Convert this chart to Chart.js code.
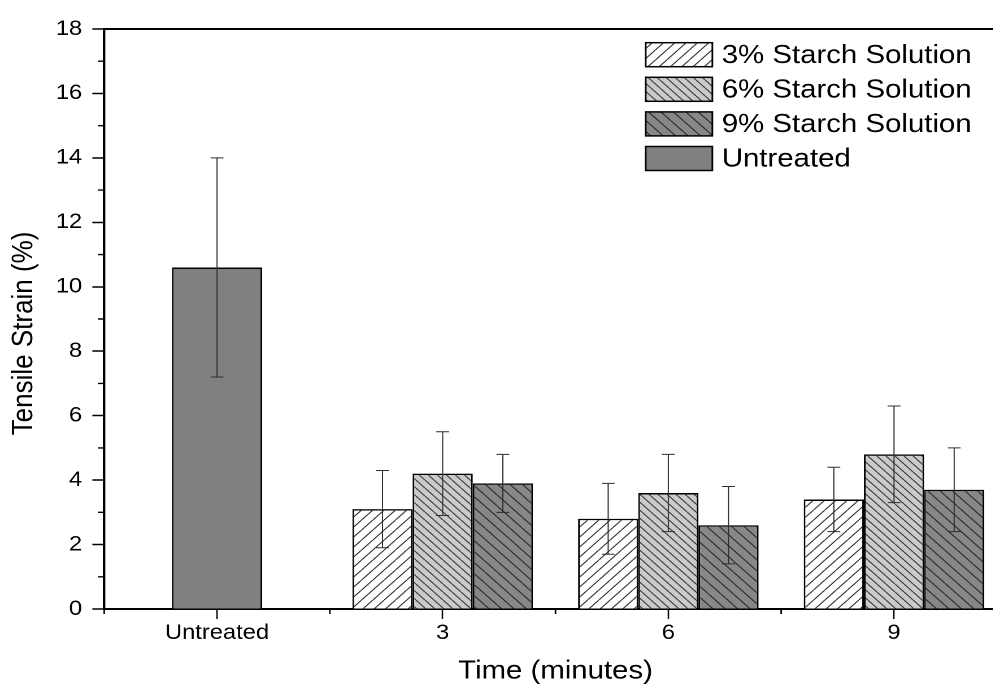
<!DOCTYPE html>
<html>
<head>
<meta charset="utf-8">
<script src="https://cdn.jsdelivr.net/npm/chart.js@4.4.1/dist/chart.umd.min.js"></script>
<style>
  html, body { margin: 0; padding: 0; background: #fff; overflow: hidden; }
  /* the source figure is slightly stretched sideways */
  #wrap { width: 891px; height: 687px; transform: scaleX(1.13); transform-origin: 0 0; }
</style>
</head>
<body>
<div id="wrap"><canvas id="strainChart"></canvas></div>
<script>
const categories = ['Untreated', '3', '6', '9'];
const starch3 = [null, 3.1, 2.8, 3.4];
const starch3Err = [null, 1.2, 1.1, 1.0];
const starch6 = [null, 4.2, 3.6, 4.8];
const starch6Err = [null, 1.3, 1.2, 1.5];
const starch9 = [null, 3.9, 2.6, 3.7];
const starch9Err = [null, 0.9, 1.2, 1.3];
const untreated = [10.6, null, null, null];
const untreatedErr = [3.4, null, null, null];
const yTickValues = [0, 2, 4, 6, 8, 10, 12, 14, 16, 18];
const yMinorValues = [1, 3, 5, 7, 9, 11, 13, 15, 17];

const FONT = "'Liberation Sans', Arial, sans-serif";
Chart.defaults.font.family = FONT;
Chart.defaults.color = '#000';

const canvas = document.getElementById('strainChart');
const ctx = canvas.getContext('2d');

// diagonal hatch fill, drawn at 2x then scaled back down
function hatch(bg, line, size, dir) {
    const c = document.createElement('canvas');
    const n = size * 2;
    c.width = n;
    c.height = n;
    const g = c.getContext('2d');
    g.fillStyle = bg;
    g.fillRect(0, 0, n, n);
    g.strokeStyle = line;
    g.lineWidth = 2;
    g.beginPath();
    for (const k of [-n, 0, n]) {
        if (dir === '/') {
            g.moveTo(k, n);
            g.lineTo(k + n, 0);
        } else {
            g.moveTo(k, 0);
            g.lineTo(k + n, n);
        }
    }
    g.stroke();
    const p = ctx.createPattern(c, 'repeat');
    p.setTransform(new DOMMatrix().scale(0.5));
    return p;
}

// error bars on top of every bar
const errorBars = {
    id: 'errorBars',
    afterDatasetsDraw(chart) {
        const c = chart.ctx;
        const y = chart.scales.y;
        c.save();
        c.strokeStyle = '#2e2e2e';
        c.lineWidth = 1;
        chart.data.datasets.forEach((ds, i) => {
            chart.getDatasetMeta(i).data.forEach((bar, j) => {
                const v = ds.data[j];
                const e = ds.errors[j];
                if (v == null || e == null) return;
                const top = y.getPixelForValue(v + e);
                const bot = y.getPixelForValue(v - e);
                c.beginPath();
                c.moveTo(bar.x, top);
                c.lineTo(bar.x, bot);
                c.moveTo(bar.x - 5.7, top);
                c.lineTo(bar.x + 5.7, top);
                c.moveTo(bar.x - 5.7, bot);
                c.lineTo(bar.x + 5.7, bot);
                c.stroke();
            });
        });
        c.restore();
    }
};

// top frame line, minor ticks and the legend inside the plot
const frame = {
    id: 'frame',
    afterDraw(chart) {
        const c = chart.ctx;
        const {left, right, top, bottom} = chart.chartArea;
        const x = chart.scales.x;
        const y = chart.scales.y;
        c.save();
        c.strokeStyle = '#000';
        c.lineWidth = 2;
        c.beginPath();
        c.moveTo(left, top);
        c.lineTo(right, top);
        c.stroke();

        c.lineWidth = 1.4;
        c.beginPath();
        yMinorValues.forEach(v => {
            const py = y.getPixelForValue(v);
            c.moveTo(left - 5.5, py);
            c.lineTo(left, py);
        });
        const half = (x.getPixelForValue(1) - x.getPixelForValue(0)) / 2;
        categories.forEach((cat, i) => {
            const px = x.getPixelForValue(i) - half;
            c.moveTo(px, bottom);
            c.lineTo(px, bottom + 5);
        });
        c.stroke();

        // legend
        const lx = 571.4, ly = 42.7, row = 34.6, bw = 59, bh = 24;
        c.font = '26px ' + FONT;
        c.textBaseline = 'middle';
        c.textAlign = 'left';
        chart.data.datasets.forEach((ds, i) => {
            const by = ly + i * row;
            c.fillStyle = ds.backgroundColor;
            c.fillRect(lx, by, bw, bh);
            c.lineWidth = 1.5;
            c.strokeStyle = '#000';
            c.strokeRect(lx, by, bw, bh);
            c.fillStyle = '#000';
            c.fillText(ds.label, lx + bw + 8.3, by + bh / 2 + 1);
        });
        c.restore();
    }
};

const starchOpts = { categoryPercentage: 0.8, barPercentage: 1, borderColor: '#000', borderWidth: 1.5 };

new Chart(ctx, {
    type: 'bar',
    data: {
        labels: categories,
        datasets: [
            { label: '3% Starch Solution', data: starch3, errors: starch3Err,
              backgroundColor: hatch('#ffffff', '#333333', 10, '/'), ...starchOpts },
            { label: '6% Starch Solution', data: starch6, errors: starch6Err,
              backgroundColor: hatch('#cacaca', '#3a3a3a', 8, '\\'), ...starchOpts },
            { label: '9% Starch Solution', data: starch9, errors: starch9Err,
              backgroundColor: hatch('#878787', '#2a2a2a', 11, '\\'), ...starchOpts },
            { label: 'Untreated', data: untreated, errors: untreatedErr,
              backgroundColor: '#808080', borderColor: '#000', borderWidth: 1.5,
              categoryPercentage: 0.4, barPercentage: 1 }
        ]
    },
    options: {
        responsive: true,
        maintainAspectRatio: false,
        devicePixelRatio: 2,
        animation: false,
        skipNull: true,
        layout: { padding: { top: 29, left: 0, right: 0, bottom: 0 } },
        plugins: {
            legend: { display: false },
            tooltip: { enabled: false }
        },
        scales: {
            x: {
                offset: true,
                grid: { display: true, offset: false, drawOnChartArea: false, drawTicks: true,
                        tickLength: 10, tickWidth: 1.3, tickColor: '#000' },
                border: { display: true, color: '#000', width: 2 },
                ticks: { font: { size: 21 }, padding: 1.5, maxRotation: 0, autoSkip: false },
                title: { display: true, text: 'Time (minutes)', font: { size: 26 },
                         padding: { top: 0, bottom: 0 } },
                afterFit: s => { s.height = 78; }
            },
            y: {
                min: 0,
                max: 18,
                afterBuildTicks: s => { s.ticks = yTickValues.map(v => ({ value: v })); },
                grid: { display: true, drawOnChartArea: false, drawTicks: true,
                        tickLength: 10.5, tickWidth: 1.5, tickColor: '#000' },
                border: { display: true, color: '#000', width: 2.2 },
                ticks: { font: { size: 21 }, padding: 9 },
                title: { display: true, text: 'Tensile Strain (%)    ', font: { size: 26 },
                         padding: { top: 5.6, bottom: 0 } },
                afterFit: s => { s.width = 92.2; }
            }
        }
    },
    plugins: [errorBars, frame]
});
</script>
</body>
</html>
